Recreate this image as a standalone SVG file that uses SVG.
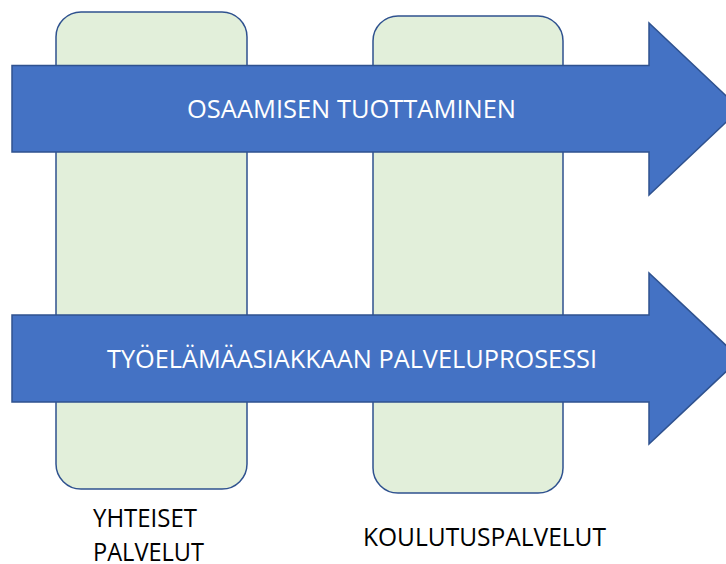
<svg xmlns="http://www.w3.org/2000/svg" width="726" height="564" viewBox="0 0 726 564">
  <style>
    .col { fill: #E2EFDA; stroke: #2F528F; stroke-width: 1.5; }
    .arrow { fill: #4472C4; stroke: #2F528F; stroke-width: 1.5; stroke-linejoin: miter; }
    .atext { font-family: "Open Sans", "Liberation Sans", sans-serif; font-size: 25px; fill: #FFFFFF; }
    .ltext { font-family: "Open Sans", "Liberation Sans", sans-serif; font-size: 25px; fill: #000000; }
  </style>
  <rect width="726" height="564" fill="#FFFFFF"/>
  <g id="yhteiset">
    <rect class="col" x="56" y="12" width="191" height="477" rx="25" ry="25"/>
    <text class="ltext" x="93" y="527" textLength="104" lengthAdjust="spacingAndGlyphs">YHTEISET</text>
    <text class="ltext" x="93" y="561" textLength="111" lengthAdjust="spacingAndGlyphs">PALVELUT</text>
  </g>
  <g id="koulutuspalvelut">
    <rect class="col" x="373" y="16" width="190" height="477" rx="25" ry="25"/>
    <text class="ltext" x="363" y="546" textLength="243" lengthAdjust="spacingAndGlyphs">KOULUTUSPALVELUT</text>
  </g>
  <g id="osaamisen-tuottaminen">
    <path class="arrow" d="M12,65.5 H649 V23 L740,109 L649,195 V152 H12 Z"/>
    <text class="atext" x="187" y="118" textLength="329" lengthAdjust="spacingAndGlyphs">OSAAMISEN TUOTTAMINEN</text>
  </g>
  <g id="palveluprosessi">
    <path class="arrow" d="M12,315 H649 V273 L740,358.5 L649,444 V402 H12 Z"/>
    <text class="atext" x="107" y="368" textLength="490" lengthAdjust="spacingAndGlyphs">TYÖELÄMÄASIAKKAAN PALVELUPROSESSI</text>
  </g>
  <g id="connectors"/>
</svg>
